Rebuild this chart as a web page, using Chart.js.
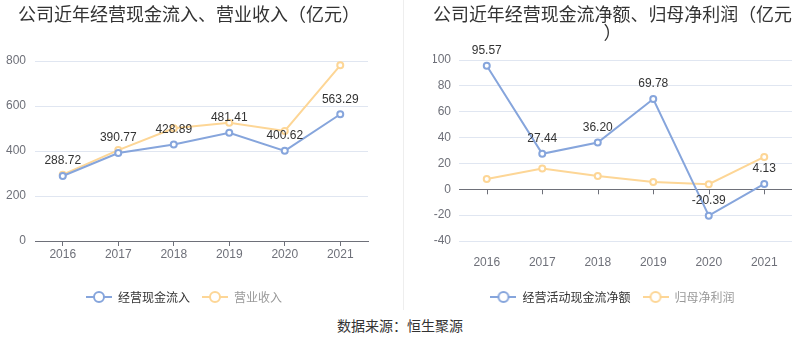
<!DOCTYPE html>
<html><head><meta charset="utf-8">
<script src="https://cdn.jsdelivr.net/npm/chart.js@4"></script>
<style>
html,body{margin:0;padding:0;background:#fff;}
#wrap{position:relative;width:800px;height:358px;overflow:hidden;background:#fff;}
#c1{position:absolute;left:0;top:0;}
#c2{position:absolute;left:405px;top:0;}
#divider{position:absolute;left:403px;top:0;width:1px;height:310px;background:#eeeeee;}
#src{position:absolute;left:0;width:800px;top:315px;text-align:center;font:14px 'Noto Sans CJK SC';color:#333;line-height:20px;}
</style></head>
<body><div id="wrap">
<canvas id="c1" width="400" height="313" style="width:400px;height:313px"></canvas>
<div id="divider"></div>
<canvas id="c2" width="395" height="313" style="width:395px;height:313px"></canvas>
<div id="src">数据来源：恒生聚源</div>
</div>
<script>
const years = ['2016', '2017', '2018', '2019', '2020', '2021'];
const cashInflow = [288.72, 390.77, 428.89, 481.41, 400.62, 563.29];
const revenue = [295, 404, 501, 526, 489, 781];
const netCashFlow = [95.57, 27.44, 36.20, 69.78, -20.39, 4.13];
const netProfit = [8.0, 16.0, 10.3, 5.7, 3.9, 25.0];
const leftTicks = [0, 200, 400, 600, 800];
const rightTicks = [-40, -20, 0, 20, 40, 60, 80, 100];
const leftNames = ['经营现金流入', '营业收入'];
const rightNames = ['经营活动现金流净额', '归母净利润'];
const leftTitle = '公司近年经营现金流入、营业收入（亿元）';
const rightTitle = ['公司近年经营现金流净额、归母净利润（亿元', '）'];

const BLUE = '#86a5dc';
const YELLOW = '#fdd696';
const AXIS = '#6e7079';
const GRID = '#e0e6f1';
const NUMFONT = "'Liberation Sans', 'Noto Sans CJK SC', sans-serif";
const CJKFONT = "'Noto Sans CJK SC', sans-serif";

function marker(color) {
  const c = document.createElement('canvas');
  c.width = 26; c.height = 14;
  const g = c.getContext('2d');
  g.strokeStyle = color; g.lineWidth = 2;
  g.beginPath(); g.moveTo(0, 7); g.lineTo(26, 7); g.stroke();
  g.beginPath(); g.arc(13, 7, 5, 0, Math.PI * 2);
  g.fillStyle = '#fff'; g.fill(); g.stroke();
  return c;
}

const labelPlugin = {
  id: 'vlabels',
  afterDatasetsDraw(chart) {
    const ctx = chart.ctx;
    const meta = chart.getDatasetMeta(0);
    const data = chart.data.datasets[0].data;
    ctx.save();
    ctx.font = '12px ' + NUMFONT;
    ctx.fillStyle = '#333';
    ctx.textAlign = 'center';
    ctx.textBaseline = 'middle';
    meta.data.forEach((pt, i) => ctx.fillText(data[i].toFixed(2), pt.x, pt.y - 15));
    ctx.restore();
  }
};

const zeroTicks = {
  id: 'zeroTicks',
  beforeDatasetsDraw(chart) {
    const ctx = chart.ctx;
    const y0 = chart.scales.y.getPixelForValue(0);
    ctx.save();
    ctx.strokeStyle = AXIS; ctx.lineWidth = 1;
    years.forEach((_, i) => {
      const x = Math.round(chart.scales.x.getPixelForValue(i)) + 0.5;
      ctx.beginPath(); ctx.moveTo(x, y0); ctx.lineTo(x, y0 + 5); ctx.stroke();
    });
    ctx.restore();
  }
};

// shift the title box start so it starts at a given x
function titleShift(left) {
  return {
    id: 'titleShift',
    afterLayout(chart) { if (chart.titleBlock) chart.titleBlock.left = left; }
  };
}

function ds(label, data, color) {
  return {
    label, data, borderColor: color, backgroundColor: '#fff',
    pointBackgroundColor: '#fff', pointBorderColor: color,
    borderWidth: 2, pointRadius: 3, pointBorderWidth: 2, tension: 0,
    pointHoverRadius: 3
  };
}

function legendOpts(names) {
  return {
    position: 'bottom',
    labels: {
      usePointStyle: true, pointStyleWidth: 26, padding: 12,
      font: { size: 12, family: CJKFONT },
      generateLabels: (chart) => chart.data.datasets.map((d, i) => ({
        text: names[i], pointStyle: marker(d.borderColor),
        fontColor: i === 0 ? '#333' : '#999', hidden: false, datasetIndex: i,
        lineWidth: 0, strokeStyle: 'transparent', fillStyle: 'transparent'
      }))
    }
  };
}

new Chart(document.getElementById('c1'), {
  type: 'line',
  data: { labels: years, datasets: [ds(leftNames[0], cashInflow, BLUE), ds(leftNames[1], revenue, YELLOW)] },
  options: {
    responsive: false, animation: false, events: [],
    layout: { padding: { left: 0, right: 32, top: 0, bottom: 0 } },
    plugins: {
      title: { display: true, text: leftTitle, align: 'start', color: '#333',
        font: { size: 18, family: CJKFONT, weight: 'normal', lineHeight: 1 },
        padding: { top: 5, bottom: 38 } },
      legend: legendOpts(leftNames),
      tooltip: { enabled: false }
    },
    scales: {
      x: {
        offset: true,
        grid: { display: true, drawOnChartArea: false, offset: false, tickLength: 5, color: AXIS, tickColor: AXIS },
        border: { display: true, color: AXIS },
        ticks: { color: AXIS, padding: 1, font: { size: 12, family: NUMFONT } },
        afterFit: (s) => { s.height = 38; }
      },
      y: {
        min: leftTicks[0], max: leftTicks[leftTicks.length - 1],
        ticks: { stepSize: leftTicks[1] - leftTicks[0], color: AXIS, padding: 9, font: { size: 12, family: NUMFONT } },
        grid: { color: GRID, drawTicks: false },
        border: { display: false },
        afterFit: (s) => { s.width = 35; }
      }
    }
  },
  plugins: [labelPlugin, titleShift(18)]
});

new Chart(document.getElementById('c2'), {
  type: 'line',
  data: { labels: years, datasets: [ds(rightNames[0], netCashFlow, BLUE), ds(rightNames[1], netProfit, YELLOW)] },
  options: {
    responsive: false, animation: false, events: [],
    layout: { padding: { left: 28, right: 8, top: 0, bottom: 0 } },
    plugins: {
      title: { display: true, text: rightTitle, align: 'center', color: '#333',
        font: { size: 18, family: CJKFONT, weight: 'normal', lineHeight: 1 },
        padding: { top: 5, bottom: 19 } },
      legend: legendOpts(rightNames),
      tooltip: { enabled: false }
    },
    scales: {
      x: {
        offset: true,
        grid: { display: false },
        border: { display: false },
        ticks: { color: AXIS, padding: 6, font: { size: 12, family: NUMFONT } },
        afterFit: (s) => { s.height = 38; }
      },
      y: {
        min: rightTicks[0], max: rightTicks[rightTicks.length - 1],
        ticks: { stepSize: rightTicks[1] - rightTicks[0], color: AXIS, padding: 8, font: { size: 12, family: NUMFONT } },
        grid: { color: (c) => (c.tick && c.tick.value === 0 ? AXIS : GRID), drawTicks: false },
        border: { display: false },
        afterFit: (s) => { s.width = 26; }
      }
    }
  },
  plugins: [labelPlugin, zeroTicks]
});
</script>
</body></html>
